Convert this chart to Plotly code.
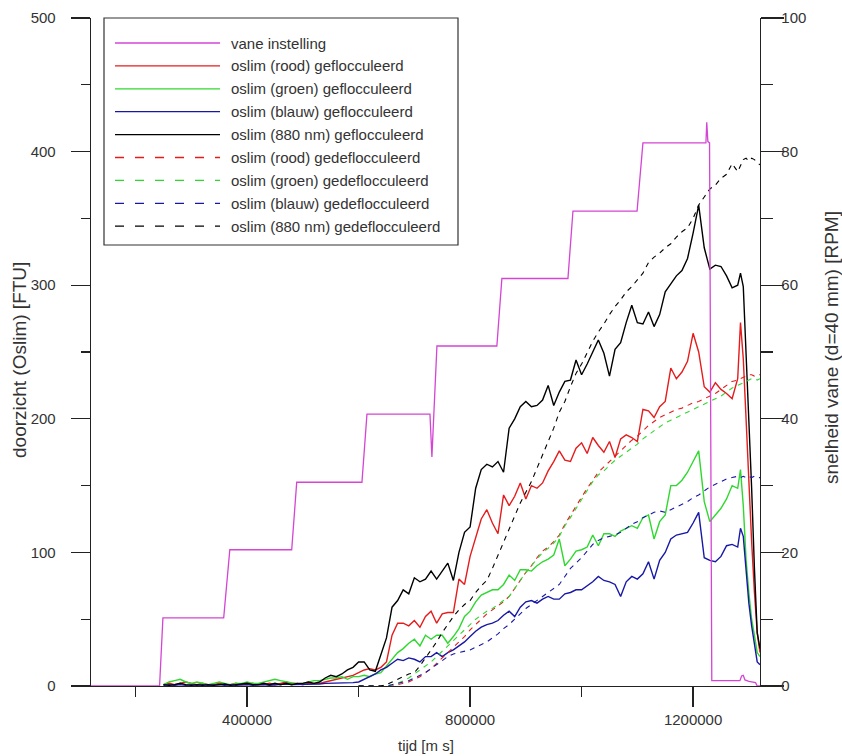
import plotly.graph_objects as go

# ---------------- data ----------------
t_ms = list(range(250000, 1290000, 10000)) + [1285000, 1290000, 1295000, 1300000,
                                               1305000, 1310000, 1315000, 1320000]
t_dash = t_ms[35:]

vane_t = [120000, 243000, 249000, 358000, 369000, 480000, 489000, 606000, 615000,
          728000, 731500, 735000, 740500, 848000, 857000, 975500, 984500, 1099500,
          1110000, 1223000, 1224500, 1226500, 1229500, 1233500, 1284000, 1287000,
          1290000, 1293000, 1300000, 1312000, 1315000, 1320000]
vane_rpm = [0, 0, 10.2, 10.2, 20.4, 20.4, 30.5, 30.5, 40.7, 40.7, 34.3, 40.7, 50.9,
            50.9, 61.0, 61.0, 71.1, 71.1, 81.3, 81.3, 84.4, 81.5, 81.3, 0.8, 0.8, 1.5,
            1.6, 0.9, 0.7, 0.5, 0, 0]

red_floc = [1, 2, 1, 2, 3, 2, 1, 2, 1, 1, 2, 1, 1, 2, 1, 1, 2, 1, 1, 2,
            1, 2, 3, 2, 2, 1, 2, 2, 2, 3, 4, 5, 6, 7, 8,
            10, 12, 13, 12, 14, 18, 38, 47, 47, 45,
            49, 44, 52, 56, 47, 54, 55, 55, 80, 76,
            97, 111, 125, 132, 122, 114, 143, 135, 142, 152,
            140, 150, 148, 152, 161, 168, 176, 169, 168, 178,
            182, 174, 186, 180, 175, 183, 171, 185, 188, 186,
            183, 207, 206, 201, 209, 213, 238, 230, 235, 243,
            264, 250, 224, 220, 227, 222, 219, 215, 230,
            272, 245, 200, 150, 108, 70, 40, 25]
green_floc = [1, 3, 4, 5, 3, 2, 3, 2, 1, 2, 3, 2, 1, 2, 2, 3, 2, 2, 3, 4,
              5, 4, 3, 2, 1.5, 2, 3, 4, 4, 5, 6, 6, 7, 5, 7,
              7, 8, 7, 9, 10, 15, 20, 25, 28, 32,
              35, 30, 38, 35, 38, 38, 32, 37, 43, 52,
              56, 63, 68, 70, 72, 72, 76, 83, 79, 87,
              87, 86, 90, 93, 95, 98, 110, 90, 95, 101,
              102, 104, 113, 105, 114, 114, 112, 116, 118, 120,
              118, 126, 128, 110, 123, 128, 150, 150, 154, 160,
              168, 176, 138, 123, 128, 133, 140, 150, 148,
              162, 135, 95, 70, 50, 38, 25, 22]
blue_floc = [0.5, 1, 0.5, 1, 0.5, 1, 0.5, 1, 0.5, 1, 1, 0.5, 1, 0.5, 1, 1, 0.5, 1, 1, 0.5,
             1, 1, 1.5, 1, 1, 1, 1.5, 1, 1.5, 2, 2, 2, 2.5, 2, 2.5,
             3, 5, 7, 9, 12, 14, 17, 20, 19, 21,
             20, 18, 22, 22, 25, 22, 25, 27, 30, 33,
             37, 41, 44, 46, 47, 49, 53, 56, 52, 59,
             63, 64, 62, 65, 67, 65, 65, 69, 70, 72,
             72, 75, 78, 82, 79, 78, 76, 67, 78, 82,
             80, 84, 93, 80, 94, 100, 110, 113, 114, 115,
             122, 130, 96, 94, 93, 97, 105, 106, 104,
             118, 112, 85, 62, 45, 30, 18, 16]
nir_floc = [1, 0.5, 1, 2, 1, 0.5, 1, 0.5, 1, 0.5, 1, 1.5, 0.5, 1, 1, 2, 1, 1, 2, 1,
            2, 1, 2, 1, 2, 2, 3, 2, 3, 6, 8, 7, 9, 12, 14,
            18, 18, 12, 11, 24, 36, 59, 64, 72, 69,
            81, 78, 80, 86, 80, 86, 92, 79, 100, 115,
            119, 148, 162, 166, 164, 168, 160, 193, 200, 209,
            213, 209, 210, 214, 225, 210, 220, 228, 229, 244,
            233, 241, 250, 259, 249, 232, 252, 257, 272, 285,
            272, 271, 280, 269, 278, 295, 301, 307, 311, 320,
            339, 360, 328, 312, 315, 314, 307, 298, 300,
            309, 299, 250, 200, 148, 88, 40, 28]

red_deflo = [0, 0, 0, 0, 0, 0, 0, 1, 2, 3,
             5, 7, 10, 13, 17, 21, 25, 29, 33, 37,
             42, 46, 50, 54, 57, 60, 63, 67, 73, 79,
             85, 90, 96, 101, 104, 108, 113, 121, 128, 135,
             141, 148, 154, 160, 164, 168, 172, 176, 180, 184,
             187, 191, 195, 198, 201, 203, 205, 207, 208, 210,
             212, 213, 215, 217, 219, 222, 225, 228, 229,
             230, 231, 232, 233, 233, 232, 233, 233]
green_deflo = [0, 0, 0, 0, 0, 0, 1, 2, 4, 6,
               9, 12, 15, 18, 22, 26, 30, 34, 38, 42,
               46, 50, 53, 56, 58, 61, 64, 67, 73, 79,
               85, 90, 95, 100, 103, 107, 112, 120, 126, 133,
               139, 147, 153, 158, 161, 165, 169, 172, 175, 178,
               181, 185, 188, 191, 194, 197, 199, 201, 203, 205,
               207, 209, 211, 213, 215, 217, 220, 223, 225,
               226, 227, 228, 229, 230, 230, 229, 230]
blue_deflo = [0, 0, 0, 0, 0, 0, 1, 2, 3, 4,
              6, 8, 10, 13, 16, 19, 22, 24, 25, 26,
              27, 29, 31, 33, 36, 39, 43, 46, 50, 54,
              58, 61, 64, 67, 70, 73, 76, 82, 88, 92,
              96, 101, 106, 109, 111, 112, 113, 115, 118, 121,
              123, 126, 128, 130, 131, 130, 132, 134, 136, 138,
              141, 143, 146, 149, 151, 153, 155, 156, 157,
              156, 157, 156, 157, 156, 157, 156, 156]
nir_deflo = [0, 0, 0, 0, 0, 1, 3, 5, 7, 9,
             10, 15, 21, 27, 33, 40, 46, 52, 57, 61,
             64, 70, 75, 79, 88, 98, 108, 118, 127, 137,
             145, 153, 163, 173, 183, 193, 205, 213, 224, 234,
             241, 250, 258, 265, 271, 278, 284, 289, 295, 299,
             304, 309, 317, 321, 324, 328, 331, 336, 340, 343,
             350, 360, 366, 372, 375, 380, 383, 391, 385,
             390, 394, 395, 393, 395, 394, 392, 390]

series_names = ["vane instelling",
                "oslim (rood) geflocculeerd",
                "oslim (groen) geflocculeerd",
                "oslim (blauw) geflocculeerd",
                "oslim (880 nm) geflocculeerd",
                "oslim (rood) gedeflocculeerd",
                "oslim (groen) gedeflocculeerd",
                "oslim (blauw) gedeflocculeerd",
                "oslim (880 nm) gedeflocculeerd"]

x_ticks = [400000, 800000, 1200000]
x_title = "tijd [m s]"
y_title = "doorzicht (Oslim) [FTU]"
y2_title = "snelheid vane (d=40 mm) [RPM]"

# ---------------- style ----------------
MAG = "#d445d4"
RED = "#e51c1c"
GRN = "#2fd82f"
BLU = "#1818a6"
BLK = "#000000"
colors = [MAG, RED, GRN, BLU, BLK, RED, GRN, BLU, BLK]
FONT = "Liberation Sans, Arial, sans-serif"
TXT = "#333333"
AX = "#222222"

W, H = 842, 756
L, R, T, B = 91, 760, 18, 686   # plot area in pixels


def px(xp):
    return (xp - L) / (R - L)


def py(yp):
    return (B - yp) / (B - T)


fig = go.Figure()

solid = [red_floc, green_floc, blue_floc, nir_floc]
dashed = [red_deflo, green_deflo, blue_deflo, nir_deflo]

for i, ys in enumerate(solid):
    fig.add_trace(go.Scatter(x=t_ms, y=ys, mode="lines", name=series_names[i + 1],
                             line=dict(color=colors[i + 1], width=1.4),
                             showlegend=False, hoverinfo="skip"))
for i, ys in enumerate(dashed):
    fig.add_trace(go.Scatter(x=t_dash, y=ys, mode="lines", name=series_names[i + 5],
                             line=dict(color=colors[i + 5], width=1.1, dash="5px,5px"),
                             showlegend=False, hoverinfo="skip"))
fig.add_trace(go.Scatter(x=vane_t, y=vane_rpm, mode="lines", name=series_names[0],
                         line=dict(color=MAG, width=1.3), yaxis="y2",
                         showlegend=False, hoverinfo="skip"))

# ---------------- custom legend ----------------
shapes = [dict(type="rect", xref="paper", yref="paper",
               x0=px(104), x1=px(458), y0=py(245), y1=py(18),
               line=dict(color="#333333", width=1.2), fillcolor="rgba(0,0,0,0)")]
annotations = []
for i, name in enumerate(series_names):
    yy = 43 + 22.9 * i
    dash = "solid" if i < 5 else "9px,11px"
    shapes.append(dict(type="line", xref="paper", yref="paper",
                       x0=px(115), x1=px(220), y0=py(yy), y1=py(yy),
                       line=dict(color=colors[i], width=1.3, dash=dash)))
    annotations.append(dict(xref="paper", yref="paper", x=px(229), y=py(yy),
                            xanchor="left", yanchor="middle", showarrow=False,
                            text=name, font=dict(family=FONT, size=15, color=TXT)))

# axis titles
annotations.append(dict(xref="paper", yref="paper", x=0.5, y=py(745),
                        xanchor="center", yanchor="middle", showarrow=False,
                        text=x_title, font=dict(family=FONT, size=15, color=TXT)))
annotations.append(dict(xref="paper", yref="paper", x=px(19), y=py(360),
                        xanchor="center", yanchor="middle", showarrow=False, textangle=-90,
                        text=y_title, font=dict(family=FONT, size=19, color=TXT)))
annotations.append(dict(xref="paper", yref="paper", x=px(832), y=py(348),
                        xanchor="center", yanchor="middle", showarrow=False, textangle=-90,
                        text=y2_title, font=dict(family=FONT, size=19, color=TXT)))

axis_common = dict(showgrid=False, zeroline=False, showline=True, linecolor=AX,
                   linewidth=1.3, ticks="outside", tickcolor=AX, tickwidth=1.3,
                   tickfont=dict(family=FONT, size=15, color=TXT))

fig.update_layout(
    width=W, height=H,
    margin=dict(l=L, r=W - R, t=T, b=H - B, autoexpand=False),
    paper_bgcolor="white", plot_bgcolor="white",
    showlegend=False,
    xaxis=dict(range=[120000, 1320000], tickvals=x_ticks, tickformat="d",
               ticklen=20, minor=dict(dtick=200000, tick0=0, ticks="outside",
                                      ticklen=10, tickcolor=AX, tickwidth=1.3),
               **axis_common),
    yaxis=dict(range=[0, 500], dtick=100, tick0=0, ticklen=19, ticklabelstandoff=12,
               minor=dict(dtick=50, tick0=0, ticks="outside", ticklen=9,
                          tickcolor=AX, tickwidth=1.3),
               **axis_common),
    yaxis2=dict(range=[0, 100], dtick=20, tick0=0, ticklen=23, overlaying="y",
                side="right", ticklabelstandoff=-6,
                minor=dict(dtick=10, tick0=0, ticks="outside", ticklen=12,
                           tickcolor=AX, tickwidth=1.3),
                **axis_common),
    shapes=shapes,
    annotations=annotations,
)

fig.write_html("out.html",
               config={"displayModeBar": False, "staticPlot": True},
               post_script="document.body.style.margin='0';document.body.style.overflow='hidden';")
